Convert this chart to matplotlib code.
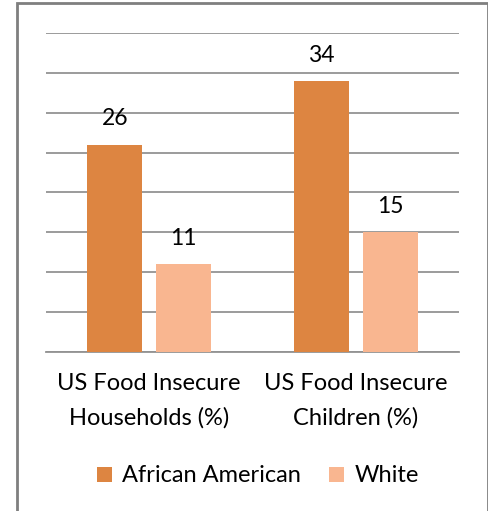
import matplotlib
matplotlib.use("Agg")
import matplotlib.pyplot as plt
from matplotlib.patches import Rectangle
import numpy as np

categories = ["US Food Insecure\nHouseholds (%)", "US Food Insecure\nChildren (%)"]
series_names = ["African American", "White"]
african_american = [26, 34]
white = [11, 15]
colors = ["#DD8541", "#F9B690"]

plt.rcParams['font.family'] = ['Lato', 'DejaVu Sans']

fig = plt.figure(figsize=(4.89, 5.11), dpi=100)
ax = fig.add_axes([46/489, (511-352)/511, 413/489, (352-33)/511])

x = np.arange(len(categories))
w = 0.266
off = 0.167
b1 = ax.bar(x - off, african_american, width=w, color=colors[0], label=series_names[0], zorder=3)
b2 = ax.bar(x + off, white, width=w, color=colors[1], label=series_names[1], zorder=3)

for bars, vals in ((b1, african_american), (b2, white)):
    for r, v in zip(bars, vals):
        ax.annotate(str(v), (r.get_x() + r.get_width()/2, v), xytext=(0, 11),
                    textcoords="offset points", ha="center", va="bottom", fontsize=16.5)

ax.set_xlim(-0.5, 1.5)
ax.set_ylim(0, 40)
ax.set_yticks(np.arange(0, 41, 5))
ax.yaxis.grid(True, color="#939393", linewidth=1.3, zorder=0)
ax.set_yticklabels([])
ax.tick_params(axis='y', length=0)
ax.set_xticks(x)
ax.set_xticklabels(categories, fontsize=17, linespacing=1.75)
ax.tick_params(axis='x', length=0, pad=15)
for s in ["top", "right", "left"]:
    ax.spines[s].set_visible(False)
ax.spines["bottom"].set_color("#939393")
ax.spines["bottom"].set_linewidth(1.3)

fig.legend(loc="center", bbox_to_anchor=(258/489, 1 - 476/511), ncol=2, frameon=False,
           fontsize=17, handlelength=0.6, handleheight=0.6, handletextpad=0.45,
           columnspacing=1.2)

fig.patches.append(Rectangle((16.7/489, -0.05), (488 - 16.7)/489, 1.05 - 3.5/511,
                             transform=fig.transFigure, fill=False,
                             edgecolor="#7F7F7F", linewidth=2))

fig.savefig("out.png", dpi=100)
